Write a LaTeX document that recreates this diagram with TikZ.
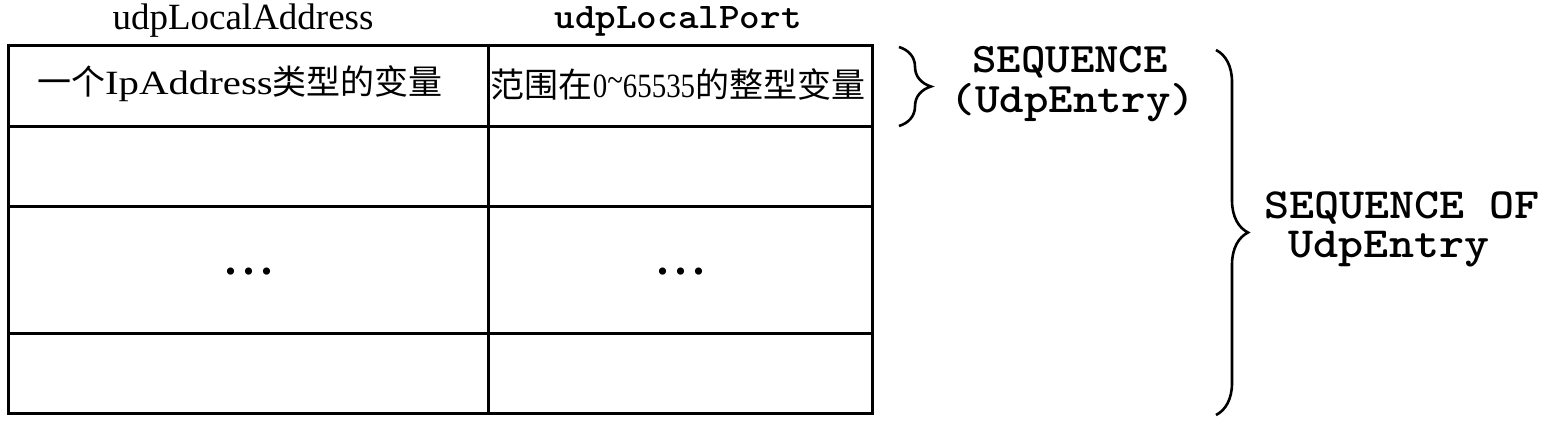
\documentclass[tikz,border=0pt]{standalone}
\usepackage{fontspec}
\setmainfont{Liberation Serif}
\newfontfamily\cjk{Noto Sans CJK SC}
\usetikzlibrary{decorations.pathreplacing}
\newcommand\mtx[3]{\scalebox{#1}[1]{\fontsize{#2}{#2}\selectfont\ttfamily\bfseries #3}}
\begin{document}
\begin{tikzpicture}[x=1pt,y=-1pt,
  grid/.style={line width=3pt},
  lab/.style={inner sep=0pt,anchor=base,font=\fontsize{37}{40}\selectfont},
  cell/.style={inner sep=0pt,font=\fontsize{34}{38}\selectfont},
  dots/.style={inner sep=0pt,font=\fontsize{44}{46}\selectfont\bfseries},
  seq/.style={inner sep=0pt,anchor=base},
  bracestyle/.style={line width=2.6pt,decorate,decoration={brace,amplitude=32pt}}]
\useasboundingbox (0,0) rectangle (1560,440);
% table
\coordinate (tl) at (8,45);
\coordinate (br) at (872,413);
\draw[grid] (tl) rectangle (br);
\draw[grid] (8,126) -- (872,126);
\draw[grid] (8,206) -- (872,206);
\draw[grid] (8,333) -- (872,333);
\draw[grid] (488,45) -- (488,413);
% labels
\node[lab] (la) at (243,29) {udpLocalAddress};
\node[seq] (lp) at (678,28) {\mtx{1.09}{36}{udpLocalPort}};
% cells
\node[cell] (c1) at (240,84) {{\cjk 一个}\scalebox{1.2}[1]{IpAddress}{\cjk 类型的变量}};
\node[cell] (c2) at (678,84) {{\cjk 范围在}\scalebox{0.85}[1]{0\raisebox{0.15em}{\char"7E}65535}{\cjk 的整型变量}};
\node[dots] (d1) at (249,272) {.\kern7pt.\kern7pt.};
\node[dots] (d2) at (681,272) {.\kern7pt.\kern7pt.};
% braces
\coordinate (sb1) at (899,47);
\coordinate (sb2) at (899,126);
\draw[bracestyle] (sb1) -- (sb2);
\coordinate (bb1) at (1216,50);
\coordinate (bb2) at (1216,415);
\draw[bracestyle] (bb1) -- (bb2);
% texts
\node[seq] (s1) at (1070,72) {\mtx{1.11}{42}{SEQUENCE}};
\node[seq] (s2) at (1073,112) {\mtx{1.11}{42}{(UdpEntry)}};
\node[seq] (s3) at (1402,218) {\mtx{1.11}{43}{SEQUENCE OF}};
\node[seq] (s4) at (1389,257) {\mtx{1.11}{43}{UdpEntry}};
\end{tikzpicture}
\end{document}
